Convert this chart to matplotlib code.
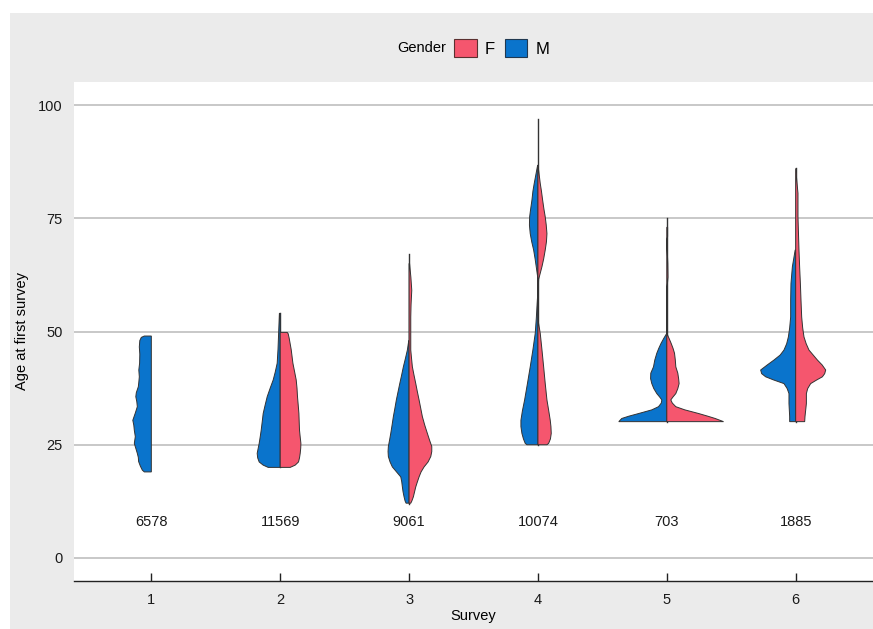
import matplotlib.pyplot as plt
from matplotlib.patches import Patch, Rectangle

plt.rcParams['font.family'] = ['Liberation Sans', 'DejaVu Sans']

surveys = [1, 2, 3, 4, 5, 6]
counts = [6578, 11569, 9061, 10074, 703, 1885]
age_lo = [19, 20, 12, 25, 30, 30]
age_hi = [49, 54, 67, 97, 75, 86]

# half-violin profiles: age points and density width (pixels at the drawn scale)
m_age = {
    1: [49, 48.7, 48, 46.6, 45, 43, 41.5, 40, 38.8, 37.8, 36.5, 35.6, 34.5, 33.4, 32, 30.4,
        29.3, 28.2, 26.8, 25.3, 24.2, 23.1, 22.2, 21.3, 20.3, 19.4, 19],
    2: [54, 50, 46, 43, 41, 39.3, 37.5, 35.6, 33.8, 31.9, 30, 28.2, 26.7, 25.3, 24.2, 23.1,
        22.1, 21.2, 20.5, 20],
    3: [48, 45.9, 44, 42.2, 40.3, 38.5, 36.7, 34.9, 33, 31.2, 29.3, 27.5, 26, 24.6, 23.5, 22.4,
        21.2, 20.1, 19, 17.9, 16.8, 15.7, 14.6, 13.5, 12.6, 12.1],
    4: [86.7, 84.7, 82.7, 81, 79, 77, 75.3, 73.5, 71.6, 69.8, 68, 66, 64.3, 62.1, 59, 56.2,
        53, 49.6, 46, 42.2, 38.5, 34.9, 32.5, 30.4, 29, 27.5, 26.3, 25.3, 25],
    5: [49.6, 48.5, 47.4, 46.3, 45.2, 43.7, 42.2, 40.8, 39.6, 38.5, 37.4, 36.3, 35.5, 34.9,
        34.2, 33.4, 32.7, 31.9, 31.3, 30.8, 30.1],
    6: [68, 66, 64.3, 60.6, 57, 53.2, 50.8, 48.8, 47.3, 45.9, 44.8, 43.7, 42.6, 41.5, 40.7,
        40, 39.3, 38.5, 37.4, 36.3, 34.1, 31.2, 30.1],
}
m_dens = {
    1: [7, 10, 11.5, 12, 11.5, 11.7, 12.5, 12, 12.5, 13, 15, 15.5, 14.5, 14, 16, 18.5,
        17.5, 17, 16, 17, 15.5, 14, 13, 12.7, 11, 9, 7],
    2: [0.8, 1.5, 2.2, 3, 5, 7, 10, 13, 15, 17, 18, 19, 20, 21, 22, 23,
        22.5, 21, 17, 12],
    3: [0.3, 1.7, 3.7, 5.7, 7.5, 9.3, 11, 12.7, 14.2, 15.7, 17, 18.3, 19.5, 20.7, 21, 20.7,
        19, 16.7, 12.5, 8.3, 7.3, 6.7, 6, 5, 4, 3],
    4: [0.3, 2, 3.7, 5, 6, 7.3, 8.3, 8.5, 7.7, 6.2, 4.3, 2.8, 1.7, 0.3, 0, 0.8,
        1.6, 2.7, 5, 7.7, 10.5, 13.3, 15.5, 17, 17, 16, 14.5, 12.7, 11],
    5: [0, 3, 5.7, 8, 10, 12, 13.3, 16, 16.2, 15, 13, 10, 7, 5,
        5.5, 8.3, 15, 28, 38, 45, 48],
    6: [0.5, 2, 3.3, 4.7, 5, 5, 6, 7.3, 9, 11.7, 15.5, 21.7, 28.5, 35, 34,
        30, 22, 11.7, 8.5, 6.7, 6.7, 6, 6],
}
f_age = {
    2: [49.8, 49.5, 48.5, 46, 43, 41, 39.3, 37.5, 35.6, 33.8, 31.9, 30, 28.2, 26.7, 25.3,
        24.2, 23.1, 22.1, 21.2, 20.5, 20],
    3: [65, 62, 59.1, 56, 53.2, 49.5, 45.9, 44, 42.2, 40.3, 38.5, 36.7, 34.9, 33, 31.2, 29.3,
        27.5, 26, 24.6, 23.5, 22.4, 21.2, 20.1, 19, 17.9, 16.8, 15.7, 14.6, 13.5, 12.6, 12.1],
    4: [86.3, 84.5, 82.7, 81, 79, 77, 75.3, 73.5, 71.6, 69.8, 68, 66, 64.3, 61.5, 58, 52,
        49.6, 46, 42.2, 38.5, 34.9, 32.5, 30.4, 29, 27.5, 26.3, 25.3, 25],
    5: [73, 71, 70, 65, 62, 59, 49.6, 48.5, 47.4, 46.3, 45.2, 43.7, 42.2, 40.8, 39.6, 38.5,
        37.4, 36.3, 35.5, 34.9, 34.2, 33.4, 32.7, 31.9, 31.3, 30.8, 30.1],
    6: [86, 80.5, 75.3, 68, 64, 60.6, 57, 53.2, 50.8, 48.8, 47.3, 45.9, 44.8, 43.7, 42.6,
        41.5, 40.7, 40, 39.3, 38.5, 37.4, 36.3, 34.1, 31.2, 30.1],
}
f_dens = {
    2: [7, 8, 9, 11, 12.7, 14.5, 16, 16.8, 17.3, 18, 18.7, 19, 19.3, 20, 20.7,
        20.5, 20, 19.3, 18.3, 15, 10],
    3: [0.5, 1.8, 2.7, 2, 1.7, 1.7, 1.7, 2.5, 3.3, 5, 6.7, 8.3, 10, 11.7, 13.3, 15.7,
        18.3, 20.5, 22.7, 22.7, 21.7, 19, 15, 12, 10, 8.3, 6.7, 5.5, 4.3, 2.8, 1.7],
    4: [0.3, 1.3, 2.3, 3.5, 4.7, 6, 7.3, 8.3, 9, 8.5, 7.3, 5.7, 4, 0.7, 0, 0.5,
        2.3, 4, 5.7, 7.3, 9, 10.8, 12.3, 13, 13.3, 12.5, 10.7, 9],
    5: [0.8, 0.8, 0, 1, 1.2, 0, 0, 2.2, 4.3, 6.2, 7.7, 8.5, 9, 11, 11.8, 12.3,
        11, 9, 6, 4, 5.5, 9, 18, 31.7, 41, 48.3, 56.7],
    6: [0, 2.3, 2.3, 3.3, 4, 4.7, 5.3, 6, 7, 8.3, 10.5, 13.3, 17.5, 21.7, 26.5,
        30, 29, 26.7, 21, 15, 12, 10.7, 10.7, 9.3, 9],
}

col_f = '#F5566E'
col_m = '#0A74CC'
edge = '#333333'
panel = '#EBEBEB'
k = 1 / 128.8

fig = plt.figure(figsize=(8.73, 6.29), dpi=100, facecolor='white')
fig.patches.append(Rectangle((10 / 873, 0), 1, (629 - 13) / 629, transform=fig.transFigure,
                             facecolor=panel, edgecolor='none', zorder=-10))
ax = fig.add_axes([74 / 873, 48 / 629, 1 - 74 / 873, 499 / 629])
ax.set_facecolor('white')

for s, lo, hi in zip(surveys, age_lo, age_hi):
    if s > 1:
        ax.plot([s, s], [lo, hi], color=edge, lw=1, zorder=2)
for s in surveys:
    if s in m_age:
        a, d = m_age[s], m_dens[s]
        xs = [s] + [s - w * k for w in d] + [s]
        ys = [a[0]] + a + [a[-1]]
        ax.fill(xs, ys, facecolor=col_m, edgecolor=edge, lw=0.7, zorder=3)
    if s in f_age:
        a, d = f_age[s], f_dens[s]
        xs = [s] + [s + w * k for w in d] + [s]
        ys = [a[0]] + a + [a[-1]]
        ax.fill(xs, ys, facecolor=col_f, edgecolor=edge, lw=0.7, zorder=3)

for s, n in zip(surveys, counts):
    ax.text(s, 8, str(n), ha='center', va='center', fontsize=10.5, color='#1a1a1a')

ax.set_xlim(0.4, 6.6)
ax.set_ylim(-5.08, 105.08)
ax.set_yticks([0, 25, 50, 75, 100])
ax.set_xticks(surveys)
ax.yaxis.grid(True, color='#C8C8C8', lw=1.4)
ax.set_axisbelow(True)
for side in ['top', 'right', 'left']:
    ax.spines[side].set_visible(False)
ax.spines['bottom'].set_color('#222222')
ax.spines['bottom'].set_linewidth(1)
ax.tick_params(axis='y', length=0, pad=8, labelsize=10.5, labelcolor='#1a1a1a')
ax.tick_params(axis='x', direction='in', length=6, width=1, color='#222222', pad=9,
               labelsize=10.5, labelcolor='#1a1a1a')
ax.set_xlabel('Survey', fontsize=10.5, labelpad=1)
ax.set_ylabel('Age at first survey', fontsize=10.5, labelpad=7)

fig.text(446 / 873, 1 - 48 / 629, 'Gender', ha='right', va='center', fontsize=10.5)
handles = [Patch(facecolor=col_f, edgecolor='#5a3030', lw=0.8, label='F'),
           Patch(facecolor=col_m, edgecolor='#203850', lw=0.8, label='M')]
fig.legend(handles=handles, loc='center left', bbox_to_anchor=(454 / 873, 1 - 48 / 629),
           ncol=2, frameon=False, fontsize=12, handlelength=1.35, handleheight=1.35,
           handletextpad=0.5, columnspacing=0.6, borderpad=0, borderaxespad=0)

fig.savefig('out.png', dpi=100, facecolor='white')
